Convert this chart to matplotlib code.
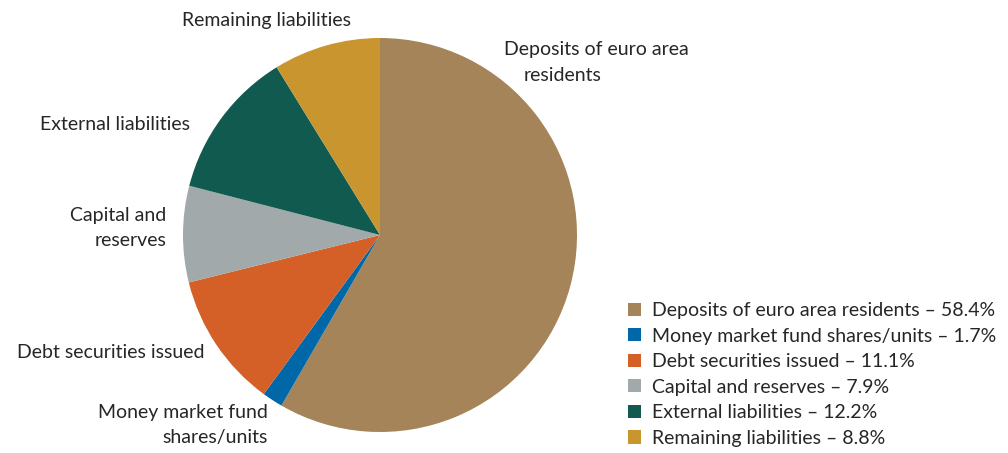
import matplotlib.pyplot as plt
from matplotlib.patches import Patch

plt.rcParams['font.family'] = ['Lato', 'DejaVu Sans']

categories = ["Deposits of euro area residents", "Money market fund shares/units",
              "Debt securities issued", "Capital and reserves",
              "External liabilities", "Remaining liabilities"]
shares = [58.4, 1.7, 11.1, 7.9, 12.2, 8.8]
pie_labels = ["Money market fund\nshares/units", "Debt securities issued",
              "Capital and\nreserves", "External liabilities", "Remaining liabilities"]
colors = ["#A58459", "#0067A8", "#D45F27", "#A2A9AB", "#115A4F", "#C9952E"]
text_col = "#262626"
fs = 14

fig = plt.figure(figsize=(10.08, 4.53), dpi=100)
ax = fig.add_axes([(380 - 197) / 1008, (453 - 432) / 453, 394 / 1008, 394 / 453])
ax.pie(shares, colors=colors, startangle=90, counterclock=False, radius=1,
       wedgeprops=dict(linewidth=0))
ax.set_xlim(-1, 1)
ax.set_ylim(-1, 1)
ax.set_aspect('equal')
ax.axis('off')

# deposits label is split over two offset lines, as in the original
ax.text(1.10, 0.944, "Deposits of euro area", ha='center', va='center', fontsize=fs,
        color=text_col, clip_on=False)
ax.text(0.929, 0.812, "residents", ha='center', va='center', fontsize=fs,
        color=text_col, clip_on=False)

# other labels (axes data units, pie radius = 1)
label_pos = [(-0.57, -0.965, 'right'), (-0.89, -0.594, 'right'),
             (-1.085, 0.036, 'right'), (-0.962, 0.56, 'right'), (-0.574, 1.09, 'center')]
for lab, (x, y, ha) in zip(pie_labels, label_pos):
    ax.text(x, y, lab, ha=ha, va='center', fontsize=fs, color=text_col,
            linespacing=1.55, clip_on=False, multialignment=ha)

handles = [Patch(facecolor=c, edgecolor='none') for c in colors]
leg_labels = [f"{c} \u2013 {s}%" for c, s in zip(categories, shares)]
fig.legend(handles, leg_labels, loc='upper left', bbox_to_anchor=(628 / 1008, 1 - 302 / 453),
           frameon=False, fontsize=fs, handlelength=0.67, handleheight=0.67,
           handletextpad=0.55, labelspacing=0.44, borderpad=0, borderaxespad=0,
           labelcolor=text_col)

fig.savefig("out.png", dpi=100)
